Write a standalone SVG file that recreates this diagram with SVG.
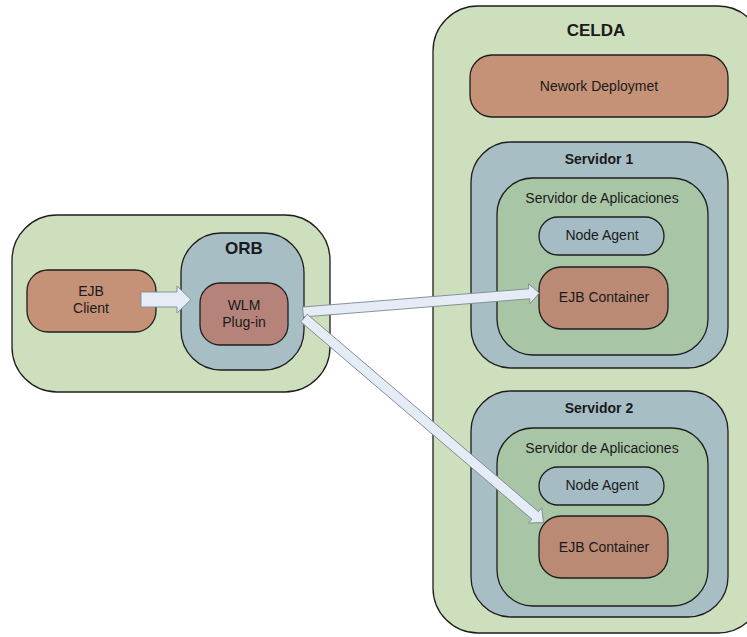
<svg xmlns="http://www.w3.org/2000/svg" width="747" height="637" viewBox="0 0 747 637">
  <defs>
    <style>
      .box { stroke: #1e1e1e; stroke-width: 1.3; }
      .light { fill: #cedfbe; }
      .slate { fill: #a7bec4; }
      .sage { fill: #a8c6a6; }
      .clay { fill: #c59277; }
      .rose { fill: #b5837a; }
      .cont { fill: #ba8a74; }
      .agent { fill: #a5bcc4; }
      .arrow { fill: #e6ecf5; stroke: #7f8a94; stroke-width: 0.9; stroke-linejoin: miter; }
      text { font-family: "Liberation Sans", Arial, sans-serif; fill: #1a1a1a; text-anchor: middle; }
      .title { font-weight: bold; font-size: 17px; }
      .sub { font-weight: bold; font-size: 14px; }
      .lbl { font-size: 14px; }
    </style>
  </defs>

  <rect width="747" height="637" fill="#ffffff"/>

  <!-- Client side -->
  <g id="client-host">
    <rect class="box light" x="12" y="215" width="318" height="177" rx="45" ry="45"/>
  </g>
  <g id="ejb-client">
    <rect class="box clay" x="27" y="270" width="129" height="62" rx="21" ry="21"/>
    <text class="lbl" x="91" y="296">EJB</text>
    <text class="lbl" x="91" y="313">Client</text>
  </g>
  <g id="orb">
    <rect class="box slate" x="181" y="233" width="123" height="137" rx="40" ry="40"/>
    <text class="title" x="244" y="254">ORB</text>
  </g>
  <g id="wlm-plugin">
    <rect class="box rose" x="200" y="283" width="88" height="62" rx="20" ry="20"/>
    <text class="lbl" x="244" y="310">WLM</text>
    <text class="lbl" x="244" y="327">Plug-in</text>
  </g>

  <!-- Cell -->
  <g id="celda">
    <rect class="box light" x="433" y="6" width="330" height="627" rx="45" ry="45"/>
    <text class="title" x="596" y="36">CELDA</text>
  </g>
  <g id="network-deployment">
    <rect class="box clay" x="470" y="55" width="258" height="62" rx="22" ry="22"/>
    <text class="lbl" x="599" y="91">Nework Deploymet</text>
  </g>

  <!-- Server 1 -->
  <g id="servidor-1">
    <rect class="box slate" x="471" y="142" width="257" height="226" rx="40" ry="40"/>
    <text class="sub" x="599" y="164">Servidor 1</text>
  </g>
  <g id="app-server-1">
    <rect class="box sage" x="497" y="178" width="211" height="177" rx="36" ry="36"/>
    <text class="lbl" x="602" y="203">Servidor de Aplicaciones</text>
  </g>
  <g id="node-agent-1">
    <rect class="box agent" x="539" y="217" width="125" height="38" rx="19" ry="19"/>
    <text class="lbl" x="602" y="240">Node Agent</text>
  </g>
  <g id="ejb-container-1">
    <rect class="box cont" x="539" y="267" width="129" height="62" rx="22" ry="22"/>
    <text class="lbl" x="604" y="302">EJB Container</text>
  </g>

  <!-- Server 2 -->
  <g id="servidor-2">
    <rect class="box slate" x="471" y="391" width="257" height="226" rx="40" ry="40"/>
    <text class="sub" x="599" y="413">Servidor 2</text>
  </g>
  <g id="app-server-2">
    <rect class="box sage" x="497" y="428" width="211" height="178" rx="36" ry="36"/>
    <text class="lbl" x="602" y="453">Servidor de Aplicaciones</text>
  </g>
  <g id="node-agent-2">
    <rect class="box agent" x="539" y="467" width="125" height="38" rx="19" ry="19"/>
    <text class="lbl" x="602" y="490">Node Agent</text>
  </g>
  <g id="ejb-container-2">
    <rect class="box cont" x="539" y="516" width="129" height="62" rx="22" ry="22"/>
    <text class="lbl" x="604" y="552">EJB Container</text>
  </g>

  <!-- Connectors: block arrows -->
  <g id="connectors">
    <polygon class="arrow" points="141,292 177,292 177,286 191,299.5 177,313 177,307 141,307"/>
    <polygon class="arrow" transform="translate(303,312) rotate(-4.6)" points="0,-5 227,-5 227,-10 237,0 227,10 227,5 0,5"/>
    <polygon class="arrow" transform="translate(304,318) rotate(40.5)" points="0,-5 304,-5 304,-10 315,0 304,10 304,5 0,5"/>
  </g>
</svg>
